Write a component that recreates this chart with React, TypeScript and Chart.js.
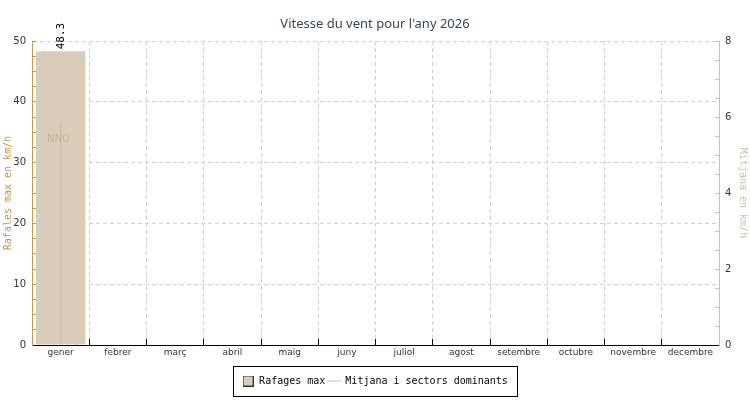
import React, { useEffect, useRef } from 'react';
import { Chart, registerables } from 'chart.js';
Chart.register(...registerables);

const months = ['gener', 'febrer', 'març', 'abril', 'maig', 'juny', 'juliol', 'agost', 'setembre', 'octubre', 'novembre', 'decembre'];
const rafagesMax: (number | null)[] = [48.3, null, null, null, null, null, null, null, null, null, null, null];
const mitjana: (number | null)[] = [5.83, null, null, null, null, null, null, null, null, null, null, null];
const sectors: (string | null)[] = ['NNO', null, null, null, null, null, null, null, null, null, null, null];
const leftMajor = [0, 10, 20, 30, 40, 50];
const rightMajor = [0, 2, 4, 6, 8];

const titleText = "Vitesse du vent pour l'any 2026";
const barColor = '#d9cdb9';
const lineColor = '#e8dfcc';
const leftAxisColor = '#c8944e';
const rightAxisColor = '#c9c1b0';
const gridColor = '#d0d0d0';

export default function App() {
  const ref = useRef<HTMLCanvasElement>(null);
  useEffect(() => {
    document.body.style.margin = '0';
    const sq = document.createElement('canvas');
    sq.width = 11; sq.height = 11;
    const sc = sq.getContext('2d')!;
    sc.fillStyle = barColor; sc.fillRect(0, 0, 11, 11);
    sc.strokeStyle = '#333'; sc.lineWidth = 1; sc.strokeRect(0.5, 0.5, 10, 10);
    const ln = document.createElement('canvas');
    ln.width = 14; ln.height = 2;
    const lc = ln.getContext('2d')!;
    lc.fillStyle = lineColor; lc.fillRect(0, 0, 14, 2);

    const labelsPlugin = {
      id: 'valueLabels',
      afterDatasetsDraw(chart: any) {
        const ctx = chart.ctx;
        const bars = chart.getDatasetMeta(1).data;
        rafagesMax.forEach((v, i) => {
          if (v == null) return;
          const el = bars[i];
          ctx.save();
          ctx.translate(el.x + 1, el.y - 2);
          ctx.rotate(-Math.PI / 2);
          ctx.font = '11px "DejaVu Sans Mono"';
          ctx.fillStyle = '#000';
          ctx.textAlign = 'left';
          ctx.textBaseline = 'middle';
          ctx.fillText(v.toFixed(1), 0, 0);
          ctx.restore();
        });
        const pts = chart.getDatasetMeta(2).data;
        sectors.forEach((s, i) => {
          if (!s) return;
          const p = pts[i];
          ctx.save();
          ctx.font = '10px "DejaVu Sans"';
          ctx.fillStyle = 'rgba(190,165,130,0.6)';
          ctx.textAlign = 'center';
          ctx.textBaseline = 'middle';
          ctx.fillText(s, p.x - 2, p.y + 16);
          ctx.restore();
        });
      },
    };

    const legendBox = {
      id: 'legendBox',
      afterDraw(chart: any) {
        const hb = chart.legend?.legendHitBoxes;
        if (!hb || !hb.length) return;
        let minX = Infinity, maxX = -Infinity, cy = 0;
        hb.forEach((b: any) => {
          minX = Math.min(minX, b.left);
          maxX = Math.max(maxX, b.left + b.width);
          cy = b.top + b.height / 2;
        });
        const ctx = chart.ctx;
        ctx.save();
        ctx.strokeStyle = '#000';
        ctx.lineWidth = 1;
        const x0 = Math.round(minX - 9) + 0.5;
        const x1 = Math.round(maxX + 9) + 0.5;
        const y0 = Math.round(cy - 15) + 0.5;
        const y1 = Math.round(cy + 15) + 0.5;
        ctx.strokeRect(x0, y0, x1 - x0, y1 - y0);
        ctx.restore();
      },
    };

    const chart = new Chart(ref.current!, {
      type: 'bar',
      data: {
        labels: months,
        datasets: [
          {
            type: 'bar',
            label: 'stem',
            data: mitjana,
            yAxisID: 'y1',
            backgroundColor: 'rgba(185,190,165,0.55)',
            barThickness: 1,
            grouped: false,
          } as any,
          {
            type: 'bar',
            label: 'Rafages max',
            data: rafagesMax,
            yAxisID: 'y',
            backgroundColor: barColor,
            borderWidth: 0,
            barPercentage: 0.86,
            categoryPercentage: 1,
            grouped: false,
          } as any,
          {
            type: 'line',
            label: 'Mitjana i sectors dominants',
            data: mitjana,
            yAxisID: 'y1',
            borderColor: lineColor,
            backgroundColor: lineColor,
            borderWidth: 2,
            pointRadius: 0,
          } as any,
        ],
      },
      options: {
        responsive: false,
        animation: false,
        layout: { padding: { left: 0, right: 0, top: 0, bottom: 4 } },
        plugins: {
          title: {
            display: true,
            text: titleText,
            color: '#3b4262',
            font: { family: '"Noto Sans"', size: 13, weight: 'normal' },
            padding: { top: 16.5, bottom: 8.9 },
          },
          tooltip: { enabled: false },
          legend: {
            position: 'bottom',
            labels: {
              usePointStyle: true,
              pointStyleWidth: 12,
              padding: 3,
              color: '#000',
              font: { family: '"DejaVu Sans Mono"', size: 10 },
              filter: (item: any) => item.datasetIndex !== 0,
              generateLabels: (c: any) => {
                const base = (Chart.defaults.plugins.legend.labels as any).generateLabels(c);
                return base.map((l: any) =>
                  l.datasetIndex === 1
                    ? { ...l, pointStyle: sq, fillStyle: barColor, strokeStyle: '#333', lineWidth: 1 }
                    : { ...l, pointStyle: ln, strokeStyle: lineColor, lineWidth: 2 }
                );
              },
            },
          },
        },
        scales: {
          x: {
            offset: true,
            grid: { offset: true, color: gridColor, tickColor: '#000', tickLength: -6, drawTicks: true },
            border: { color: '#000', dash: [4, 3] },
            ticks: { color: '#333', font: { family: '"DejaVu Sans"', size: 9 }, padding: 8, maxRotation: 0, autoSkip: false },
            afterFit: (s: any) => { s.height = 28; },
          },
          y: {
            position: 'left',
            min: 0,
            max: 50,
            grid: {
              color: (ctx: any) => (ctx.tick && leftMajor.includes(ctx.tick.value) ? gridColor : 'rgba(0,0,0,0)'),
              tickColor: leftAxisColor,
              tickLength: -4,
            },
            border: { color: leftAxisColor, dash: [4, 3] },
            ticks: {
              stepSize: 2.5,
              maxTicksLimit: 100,
              autoSkip: false,
              padding: 10,
              color: '#333',
              font: { family: '"DejaVu Sans"', size: 10 },
              callback: (v: any) => (leftMajor.includes(Number(v)) ? String(v) : ''),
            },
            title: {
              display: true,
              text: 'Rafales max en km/h',
              color: leftAxisColor,
              font: { family: '"DejaVu Sans Mono"', size: 10 },
              padding: { top: 2, bottom: 0 },
            },
            afterFit: (s: any) => { s.width = 32; },
          },
          y1: {
            position: 'right',
            min: 0,
            max: 8,
            grid: { drawOnChartArea: false, tickColor: rightAxisColor, tickLength: -4 },
            border: { color: rightAxisColor },
            ticks: {
              stepSize: 0.5,
              maxTicksLimit: 100,
              autoSkip: false,
              padding: 10,
              color: '#333',
              font: { family: '"DejaVu Sans"', size: 10 },
              callback: (v: any) => (rightMajor.includes(Number(v)) ? String(v) : ''),
            },
            title: {
              display: true,
              text: 'Mitjana en km/h',
              color: rightAxisColor,
              font: { family: '"DejaVu Sans Mono"', size: 10 },
              padding: { top: 1, bottom: 0 },
            },
            afterFit: (s: any) => { s.width = 31; },
          },
        },
      } as any,
      plugins: [labelsPlugin, legendBox],
    });
    return () => chart.destroy();
  }, []);
  return <canvas ref={ref} width={750} height={400} style={{ display: 'block' }} />;
}
